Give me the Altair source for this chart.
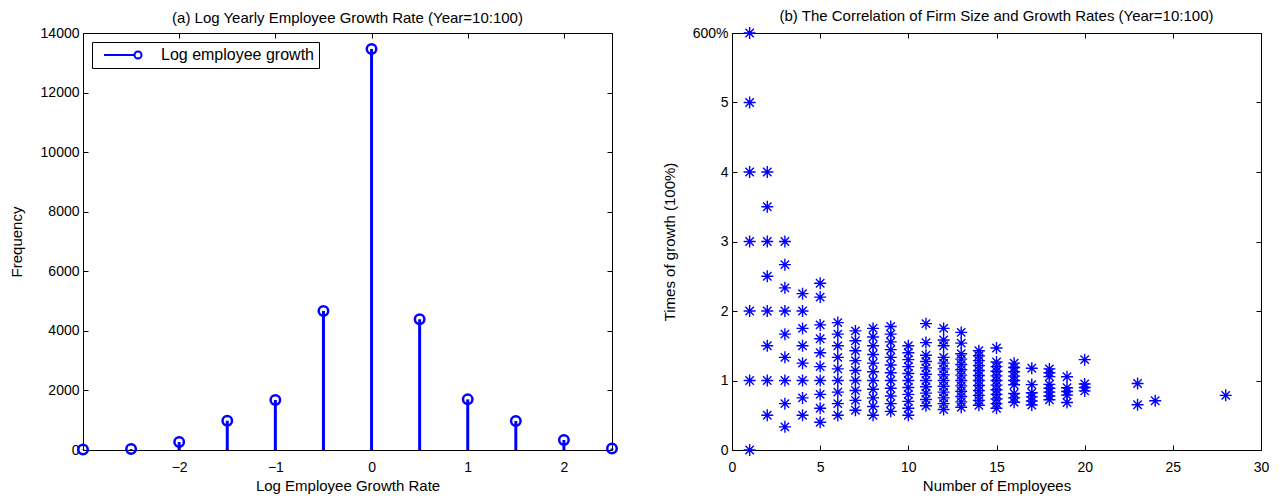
import altair as alt
import pandas as pd

# ---------------- panel (a) data ----------------
stem_rate = [-3.0, -2.5, -2.0, -1.5, -1.0, -0.5, 0.0, 0.5, 1.0, 1.5, 2.0, 2.5]
stem_freq = [15, 30, 268, 984, 1680, 4667, 13460, 4390, 1700, 975, 336, 50]
stem_series = "Log employee growth"
rate_ticks = [-2, -1, 0, 1, 2]
freq_ticks = [0, 2000, 4000, 6000, 8000, 10000, 12000, 14000]

# ---------------- panel (b) data ----------------
growth_by_size = {
    1: [0, 1, 2, 3, 4, 5, 6],
    2: [0.5, 1, 1.5, 2, 2.5, 3, 3.5, 4],
    3: [0.333, 0.667, 1, 1.333, 1.667, 2, 2.333, 2.667, 3],
    4: [0.5, 0.75, 1, 1.25, 1.5, 1.75, 2, 2.25],
    5: [0.4, 0.6, 0.8, 1, 1.2, 1.4, 1.6, 1.8, 2.2, 2.4],
    6: [0.5, 0.667, 0.833, 1, 1.167, 1.333, 1.5, 1.667, 1.833],
    7: [0.571, 0.714, 0.857, 1, 1.143, 1.286, 1.429, 1.571, 1.714],
    8: [0.5, 0.625, 0.75, 0.875, 1, 1.125, 1.25, 1.375, 1.5, 1.625, 1.75],
    9: [0.556, 0.667, 0.778, 0.889, 1, 1.111, 1.222, 1.333, 1.444, 1.556, 1.667, 1.778],
    10: [0.5, 0.6, 0.7, 0.8, 0.9, 1, 1.1, 1.2, 1.3, 1.4, 1.5],
    11: [0.636, 0.727, 0.818, 0.909, 1, 1.091, 1.182, 1.273, 1.364, 1.545, 1.818],
    12: [0.583, 0.667, 0.75, 0.833, 0.917, 1, 1.083, 1.167, 1.25, 1.333, 1.5, 1.583, 1.75],
    13: [0.615, 0.692, 0.769, 0.846, 0.923, 1, 1.077, 1.154, 1.231, 1.308, 1.385, 1.538, 1.692],
    14: [0.643, 0.714, 0.786, 0.857, 0.929, 1, 1.071, 1.143, 1.214, 1.286, 1.357, 1.429],
    15: [0.6, 0.667, 0.733, 0.8, 0.867, 0.933, 1, 1.067, 1.133, 1.2, 1.267, 1.467],
    16: [0.688, 0.75, 0.813, 0.938, 1.0, 1.063, 1.125, 1.188, 1.25],
    17: [0.647, 0.706, 0.765, 0.824, 0.941, 1.176],
    18: [0.722, 0.778, 0.833, 0.889, 0.944, 1.056, 1.111, 1.167],
    19: [0.684, 0.789, 0.842, 0.895, 1.053],
    20: [0.85, 0.9, 0.95, 1.3],
    23: [0.652, 0.957],
    24: [0.708],
    28: [0.786],
}
emp_ticks = [0, 5, 10, 15, 20, 25, 30]
growth_ticks = [0, 1, 2, 3, 4, 5, 6]

df_a = pd.DataFrame({"rate": stem_rate, "freq": stem_freq, "series": stem_series})
df_b = pd.DataFrame(
    [(k, v) for k, vs in growth_by_size.items() for v in vs],
    columns=["employees", "growth"],
)

# ---------------- styling ----------------
W, H = 529, 417
BLUE = "#0000ff"
FONT = "Liberation Sans"
TICK = 5
ASTERISK = "M-1,0L1,0M0,-1L0,1M-0.7,-0.7L0.7,0.7M-0.7,0.7L0.7,-0.7"
# legend glyph: thick line ending in an open circle (units of 5 px)
LEG_PATH = "M-0.2,0L5.9,0M7.3,0A0.7,0.7 0 1,1 5.9,0A0.7,0.7 0 1,1 7.3,0"


def lab_axis(orient, values, title, label_pad, title_pad, label_expr=None, fmt=None):
    kw = dict(
        orient=orient, values=values, title=title, ticks=False, tickSize=0,
        domain=False, grid=False, labelPadding=label_pad, titlePadding=title_pad,
        labelFlush=False, labelOverlap=False, labelFont=FONT, labelFontSize=14,
        labelColor="black", titleFont=FONT, titleFontSize=15,
        titleFontWeight="normal", titleColor="black",
    )
    if label_expr:
        kw["labelExpr"] = label_expr
    if fmt:
        kw["format"] = fmt
    return alt.Axis(**kw)


def tick_axis(orient, values, offset):
    return alt.Axis(
        orient=orient, values=values, offset=offset, title=None, labels=False,
        domain=False, grid=False, ticks=True, tickSize=TICK, tickColor="black",
        tickWidth=1,
    )


def ptitle(text):
    return alt.Title(text, font=FONT, fontSize=15, fontWeight="normal",
                     color="black", offset=0, anchor="middle", frame="group")


# ---------------- panel (a) ----------------
xa = alt.Scale(domain=[-3, 2.5], nice=False, zero=False)
ya = alt.Scale(domain=[0, 14000], nice=False, zero=False)
base_a = alt.Chart(df_a)

stems = base_a.mark_rule(color=BLUE, strokeWidth=3).encode(
    x=alt.X("rate:Q", scale=xa,
            axis=lab_axis("bottom", rate_ticks, "Log Employee Growth Rate", 10, 4)),
    y=alt.Y("freq:Q", scale=ya,
            axis=lab_axis("left", freq_ticks, "Frequency", 4, 16, fmt="d")),
    y2=alt.datum(0),
)
heads = base_a.mark_point(shape="circle", size=90, strokeWidth=2.5,
                          filled=False, opacity=1).encode(
    x=alt.X("rate:Q", scale=xa, axis=tick_axis("top", rate_ticks, -H)),
    y=alt.Y("freq:Q", scale=ya, axis=tick_axis("right", freq_ticks, -W)),
    color=alt.Color(
        "series:N", scale=alt.Scale(range=[BLUE]),
        legend=alt.Legend(
            title=None, orient="top-left", offset=9, padding=5,
            strokeColor="black", fillColor="white", cornerRadius=0,
            symbolType=LEG_PATH, symbolSize=100, symbolStrokeWidth=2,
            symbolFillColor="transparent", symbolStrokeColor=BLUE,
            labelFont=FONT, labelFontSize=16, labelColor="black", labelOffset=48,
        ),
    ),
)
ghost_a = base_a.mark_point(opacity=0).encode(
    x=alt.X("rate:Q", scale=xa, axis=tick_axis("bottom", rate_ticks, -H)),
    y=alt.Y("freq:Q", scale=ya, axis=tick_axis("left", freq_ticks, -W)),
)
panel_a = (
    alt.layer(stems, heads, ghost_a)
    .resolve_axis(x="independent", y="independent")
    .properties(width=W, height=H,
                title=ptitle("(a) Log Yearly Employee Growth Rate (Year=10:100)"))
)

# ---------------- panel (b) ----------------
xb = alt.Scale(domain=[0, 30], nice=False, zero=False)
yb = alt.Scale(domain=[0, 6], nice=False, zero=False)
base_b = alt.Chart(df_b)

stars = base_b.mark_point(shape=ASTERISK, size=144, strokeWidth=1.4,
                          filled=False, color=BLUE, opacity=1).encode(
    x=alt.X("employees:Q", scale=xb,
            axis=lab_axis("bottom", emp_ticks, "Number of Employees", 10, 4)),
    y=alt.Y("growth:Q", scale=yb,
            axis=lab_axis("left", growth_ticks, "Times of growth (100%)", 4, 15,
                          label_expr="datum.value == 6 ? '600%' : datum.label")),
)
ghost_b1 = base_b.mark_point(opacity=0).encode(
    x=alt.X("employees:Q", scale=xb, axis=tick_axis("top", emp_ticks, -H)),
    y=alt.Y("growth:Q", scale=yb, axis=tick_axis("right", growth_ticks, -W)),
)
ghost_b2 = base_b.mark_point(opacity=0).encode(
    x=alt.X("employees:Q", scale=xb, axis=tick_axis("bottom", emp_ticks, -H)),
    y=alt.Y("growth:Q", scale=yb, axis=tick_axis("left", growth_ticks, -W)),
)
panel_b = (
    alt.layer(stars, ghost_b1, ghost_b2)
    .resolve_axis(x="independent", y="independent")
    .properties(width=W, height=H,
                title=ptitle("(b) The Correlation of Firm Size and Growth Rates (Year=10:100)"))
)

chart = (
    alt.hconcat(panel_a, panel_b, spacing=38)
    .properties(padding=0)
    .configure_view(stroke="black", strokeWidth=1)
)

chart.save("out.html", embed_options={"renderer": "svg", "actions": False})
